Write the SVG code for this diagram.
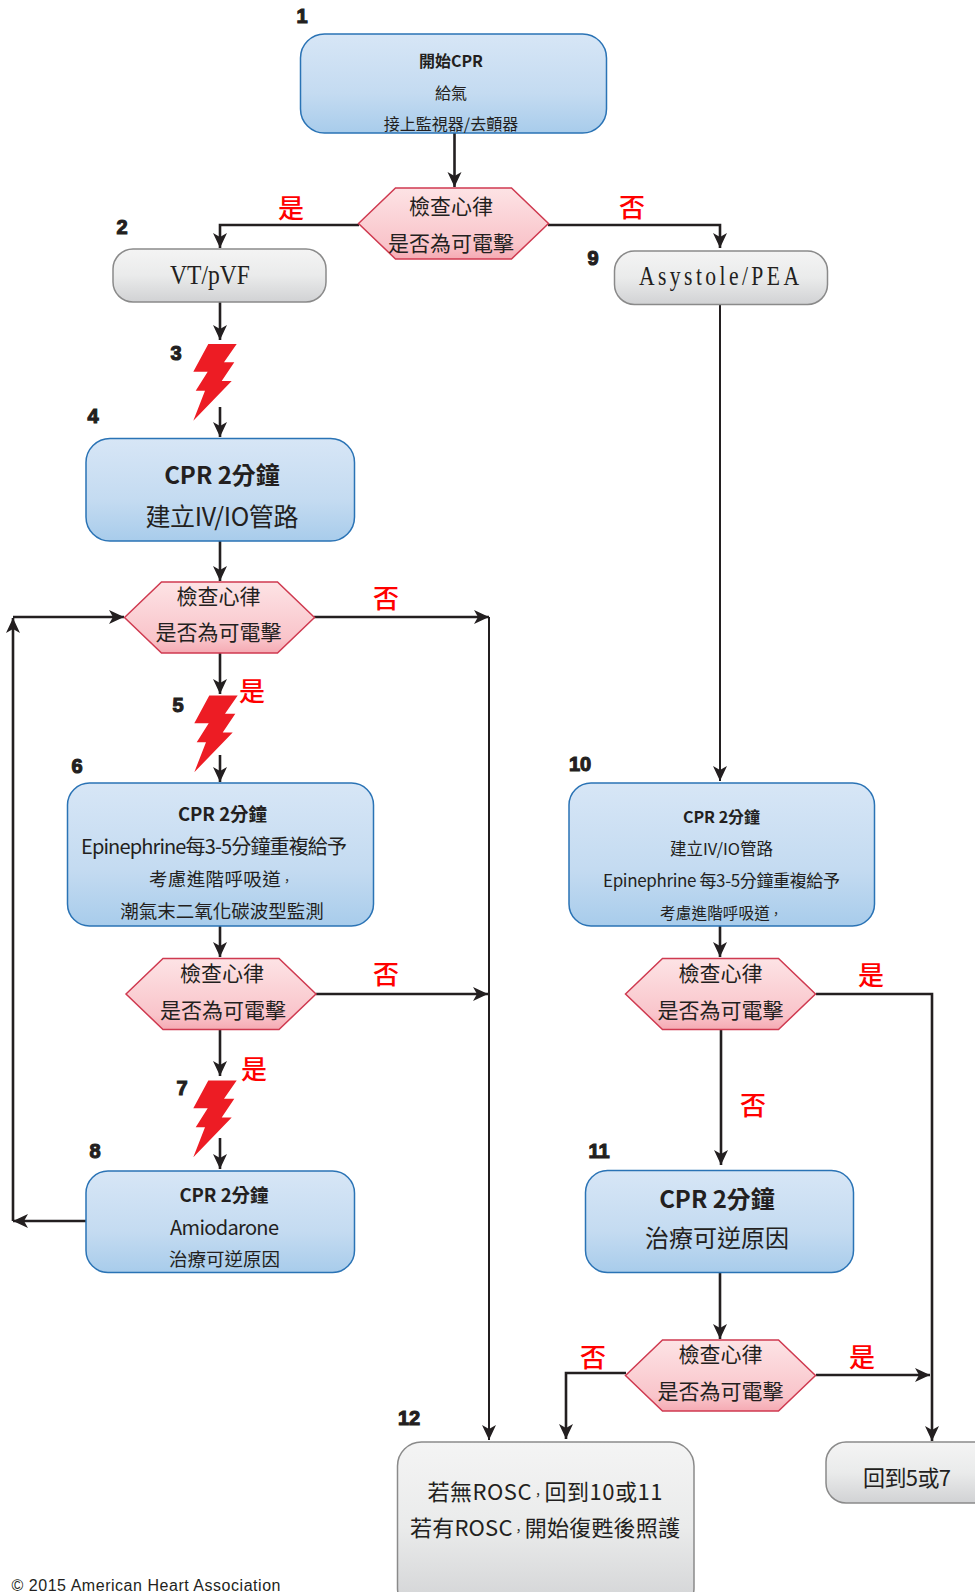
<svg xmlns="http://www.w3.org/2000/svg" width="975" height="1592" viewBox="0 0 975 1592" lang="zh-Hant">
<style>
text{font-family:"Noto Sans CJK TC","Noto Sans",sans-serif;fill:#231f20;text-anchor:middle}
.blue{fill:url(#gb);stroke:#2a73b5;stroke-width:1.5}
.gray{fill:url(#gg);stroke:#8a8a8a;stroke-width:1.5}
.dia{fill:url(#gp);stroke:#cf3a50;stroke-width:1.5}
.line{fill:none;stroke:#231f20;stroke-width:2.6}
.thin{fill:none;stroke:#231f20;stroke-width:2}
.bolt{fill:#ed1c24}
.b{font-weight:700}
.num{font-family:"Liberation Sans",sans-serif;font-weight:700;font-size:20px;stroke:#231f20;stroke-width:1.1}
.yn{fill:#ff0000;font-size:26px;font-weight:500}
.d{font-size:21px}
.ser{font-family:"Liberation Serif",serif}
.c{font-size:12px}
</style>
<defs>
<linearGradient id="gb" x1="0" y1="0" x2="0" y2="1"><stop offset="0" stop-color="#d7e6f6"/><stop offset=".6" stop-color="#c4dbf1"/><stop offset="1" stop-color="#a8cceb"/></linearGradient>
<linearGradient id="gg" x1="0" y1="0" x2="0" y2="1"><stop offset="0" stop-color="#f4f4f4"/><stop offset=".5" stop-color="#eaebeb"/><stop offset="1" stop-color="#d1d2d4"/></linearGradient>
<linearGradient id="gp" x1="0" y1="0" x2="0" y2="1"><stop offset="0" stop-color="#fde3e5"/><stop offset=".8" stop-color="#f9c4ca"/><stop offset="1" stop-color="#f5aab3"/></linearGradient>
<marker id="ah" markerUnits="userSpaceOnUse" markerWidth="18" markerHeight="16" refX="15" refY="7" orient="auto"><path d="M0 0L15 7L0 14L4 7Z" fill="#231f20"/></marker>
<polygon id="dshape" points="-95,0 -58,-35.5 58,-35.5 95,0 58,35.5 -58,35.5"/>
<polygon id="boltp" points="208.3,344 236.7,344 224,362.3 234.3,362.3 221.7,381 231.7,381 193.3,420.7 205,390.7 195.7,390.7 207.7,371.7 193.3,371.7"/>
</defs>

<g id="connectors">
<path class="line" marker-end="url(#ah)" d="M454.500 133V187"/>
<path class="line" marker-end="url(#ah)" d="M359 225H220V248"/>
<path class="line" marker-end="url(#ah)" d="M548 225H720V248"/>
<path class="line" marker-end="url(#ah)" d="M220 302V340"/>
<path class="line" marker-end="url(#ah)" d="M220 407V437"/>
<path class="line" marker-end="url(#ah)" d="M220 541V581"/>
<path class="line" marker-end="url(#ah)" d="M220 653V694"/>
<path class="line" marker-end="url(#ah)" d="M220 755V782"/>
<path class="line" marker-end="url(#ah)" d="M220 926V957"/>
<path class="line" marker-end="url(#ah)" d="M220 1030V1076"/>
<path class="line" marker-end="url(#ah)" d="M220 1138V1169"/>
<path class="line" marker-end="url(#ah)" d="M86 1221H13"/>
<path class="line" marker-end="url(#ah)" d="M13 1221V618"/>
<path class="line" marker-end="url(#ah)" d="M13 617H124"/>
<path class="line" marker-end="url(#ah)" d="M314 617H489"/>
<path class="line" marker-end="url(#ah)" d="M316 994H488"/>
<path class="thin" marker-end="url(#ah)" d="M489 617V1440"/>
<path class="thin" marker-end="url(#ah)" d="M720 305V781"/>
<path class="line" marker-end="url(#ah)" d="M720 926V957"/>
<path class="line" marker-end="url(#ah)" d="M816 994H932V1441"/>
<path class="line" marker-end="url(#ah)" d="M721 1030V1165"/>
<path class="line" marker-end="url(#ah)" d="M720 1273V1339"/>
<path class="line" marker-end="url(#ah)" d="M626 1373H566V1439"/>
<path class="line" marker-end="url(#ah)" d="M816 1375H930"/>
</g>

<g id="node1"><rect class="blue" x="300.500" y="34" width="306" height="99" rx="24"/>
<text class="b" x="451" y="67" font-size="16">開始CPR</text><text x="451" y="99" font-size="16">給氣</text><text x="451" y="130" font-size="16">接上監視器/去顫器</text></g>
<g id="check1"><use href="#dshape" class="dia" x="453.5" y="223.500"/><text class="d" x="451" y="213.500">檢查心律</text><text class="d" x="451" y="250.500">是否為可電擊</text></g>
<g id="node2"><rect class="gray" x="113" y="249" width="213" height="53" rx="20"/><text class="ser" x="210" y="284" font-size="28" textLength="80" lengthAdjust="spacingAndGlyphs">VT/pVF</text></g>
<g id="node9"><rect class="gray" x="614.500" y="251" width="213" height="53.500" rx="20"/><text class="ser" transform="translate(719 285) scale(.8 1)" font-size="27" textLength="200">Asystole/PEA</text></g>
<g id="node3"><use href="#boltp" class="bolt"/></g>
<g id="node4"><rect class="blue" x="86" y="438.500" width="268.500" height="102.500" rx="24"/><text class="b" x="222" y="484" font-size="24">CPR 2分鐘</text><text x="222" y="526" font-size="25" textLength="153">建立IV/IO管路</text></g>
<g id="check2"><use href="#dshape" class="dia" x="219.5" y="617.5"/><text class="d" x="218.5" y="604">檢查心律</text><text class="d" x="218.5" y="640">是否為可電擊</text></g>
<g id="node5"><use href="#boltp" class="bolt" x="1" y="351.5"/></g>
<g id="node6"><rect class="blue" x="67.500" y="783" width="306" height="143" rx="22"/><text class="b" x="222.500" y="821" font-size="18.500">CPR 2分鐘</text><text x="214" y="854" font-size="20" textLength="266">Epinephrine每3-5分鐘重複給予</text><text x="221" y="886" font-size="18.500" textLength="144">考慮進階呼吸道<tspan class="c">，</tspan></text><text x="222" y="918" font-size="18.500">潮氣末二氧化碳波型監測</text></g>
<g id="check3"><use href="#dshape" class="dia" x="221" y="994"/><text class="d" x="222" y="981">檢查心律</text><text class="d" x="223" y="1018">是否為可電擊</text></g>
<g id="node7"><use href="#boltp" class="bolt" x="0" y="736.5"/></g>
<g id="node8"><rect class="blue" x="86" y="1171" width="268.500" height="101.500" rx="22"/><text class="b" x="224" y="1202" font-size="18.500">CPR 2分鐘</text><text x="224.500" y="1235" font-size="20" textLength="109">Amiodarone</text><text x="224.500" y="1266" font-size="18.500">治療可逆原因</text></g>
<g id="node10"><rect class="blue" x="569" y="783" width="305.500" height="143" rx="22"/><text class="b" x="721.500" y="823" font-size="16">CPR 2分鐘</text><text x="721.500" y="855" font-size="16.500">建立IV/IO管路</text><text x="721.500" y="887" font-size="17" textLength="237">Epinephrine  每3-5分鐘重複給予</text><text x="721" y="919" font-size="15.500" textLength="122">考慮進階呼吸道<tspan class="c">，</tspan></text></g>
<g id="check4"><use href="#dshape" class="dia" x="720.500" y="994"/><text class="d" x="720.500" y="981">檢查心律</text><text class="d" x="720.500" y="1018">是否為可電擊</text></g>
<g id="node11"><rect class="blue" x="585.500" y="1170.500" width="268" height="102" rx="22"/><text class="b" x="717" y="1208" font-size="24">CPR 2分鐘</text><text x="717" y="1247" font-size="24">治療可逆原因</text></g>
<g id="check5"><use href="#dshape" class="dia" x="720.500" y="1375.500"/><text class="d" x="720.500" y="1362">檢查心律</text><text class="d" x="720.500" y="1399">是否為可電擊</text></g>
<g id="node12"><rect class="gray" x="397.500" y="1442" width="296.500" height="170" rx="24"/><text x="545" y="1500" font-size="22" textLength="235">若無ROSC<tspan class="c">，</tspan>回到10或11</text><text x="545" y="1536" font-size="22" textLength="270">若有ROSC<tspan class="c">，</tspan>開始復甦後照護</text></g>
<g id="node13"><rect class="gray" x="826" y="1442" width="170" height="61" rx="20"/><text x="907" y="1486" font-size="22" textLength="88">回到5或7</text></g>

<g id="labels">
<text class="yn" x="291" y="218">是</text><text class="yn" x="632" y="217">否</text>
<text class="yn" x="386" y="608">否</text><text class="yn" x="252" y="701">是</text>
<text class="yn" x="386" y="984">否</text><text class="yn" x="254" y="1079">是</text>
<text class="yn" x="871" y="985">是</text><text class="yn" x="753" y="1115">否</text>
<text class="yn" x="593" y="1367">否</text><text class="yn" x="862" y="1367">是</text>
<text class="num" x="302" y="23">1</text><text class="num" x="122" y="234">2</text><text class="num" x="593" y="265">9</text>
<text class="num" x="176" y="360">3</text><text class="num" x="93" y="423">4</text><text class="num" x="178" y="712">5</text>
<text class="num" x="77" y="773">6</text><text class="num" x="580" y="771">10</text><text class="num" x="182" y="1095">7</text>
<text class="num" x="95" y="1158">8</text><text class="num" x="599" y="1158">11</text><text class="num" x="409" y="1425">12</text>
<text x="146" y="1591" style="font-family:'Liberation Sans',sans-serif;font-size:16px" textLength="269">© 2015 American Heart Association</text>
</g>
</svg>
